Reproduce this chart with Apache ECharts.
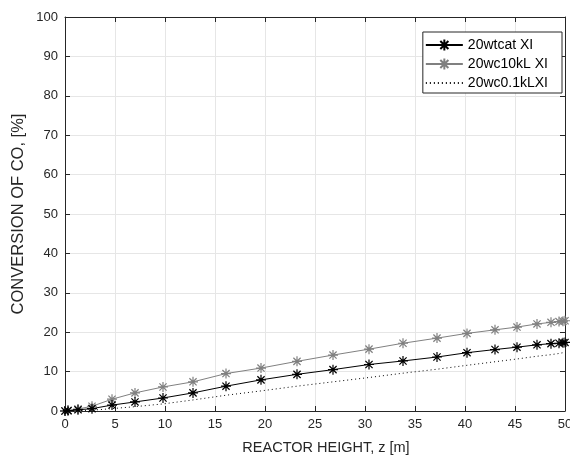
<!DOCTYPE html>
<html>
<head>
<meta charset="utf-8">
<script src="https://cdn.jsdelivr.net/npm/echarts@6/dist/echarts.min.js"></script>
<style>
  html, body { margin: 0; padding: 0; background: #fff; }
  #chart { width: 570px; height: 459px; }
</style>
</head>
<body>
<div id="chart"></div>
<script>
// reactor height z [m] of the solver steps
var zSteps = [0, 0.3, 1.3, 2.7, 4.7, 7.0, 9.8, 12.8, 16.1, 19.6, 23.2, 26.8, 30.4, 33.8, 37.2, 40.2, 43.0, 45.2, 47.2, 48.6, 49.4, 49.8, 50];
// conversion of CO [%]
var wtcat = [0, 0.1, 0.3, 0.6, 1.5, 2.3, 3.3, 4.6, 6.3, 7.9, 9.3, 10.5, 11.8, 12.7, 13.7, 14.8, 15.6, 16.2, 16.8, 17.1, 17.2, 17.3, 17.4];
var wc10kL = [0, 0.1, 0.5, 1.2, 3.0, 4.6, 6.1, 7.4, 9.5, 10.9, 12.6, 14.2, 15.7, 17.2, 18.5, 19.7, 20.6, 21.3, 22.1, 22.5, 22.7, 22.8, 22.9];
var wc01kL = [0, 0, 0.1, 0.2, 0.6, 1.1, 1.8, 2.8, 4.0, 5.1, 6.3, 7.4, 8.5, 9.6, 10.6, 11.6, 12.5, 13.2, 13.9, 14.3, 14.6, 14.8, 14.9];
var seriesNames = ['20wtcat XI', '20wc10kL XI', '20wc0.1kLXI'];

var star = 'path://M0,-1L0,1M-1,0L1,0M-0.72,-0.72L0.72,0.72M-0.72,0.72L0.72,-0.72';
var noMark = 'path://M0,0L1,1';
var font = 'Liberation Sans, Arial, Helvetica, sans-serif';
var axisColor = '#262626';

function pairs(ys) {
  return zSteps.map(function (z, i) { return [z, ys[i]]; });
}

function frameAxis(pos, max) {
  return {
    type: 'value', position: pos, min: 0, max: max, interval: max / 10,
    axisLine: { show: true, onZero: false, lineStyle: { color: axisColor, width: 1 } },
    axisTick: { show: true, inside: true, length: 5, lineStyle: { color: axisColor } },
    axisLabel: { show: false },
    splitLine: { show: false }
  };
}

var chart = echarts.init(document.getElementById('chart'));
chart.setOption({
  animation: false,
  textStyle: { fontFamily: font },
  grid: { left: 65, right: 5, top: 17, bottom: 48, containLabel: false, outerBoundsMode: 'none' },
  legend: {
    orient: 'vertical', right: 8, top: 32,
    data: [
      { name: seriesNames[0] },
      { name: seriesNames[1] },
      { name: seriesNames[2], itemStyle: { color: 'transparent', borderColor: 'transparent', borderWidth: 0 } }
    ],
    backgroundColor: '#fff', borderColor: axisColor, borderWidth: 1,
    padding: [6, 14, 3, 2], itemGap: 5, itemWidth: 37, itemHeight: 14,
    textStyle: { fontFamily: font, fontSize: 14, color: '#000' }
  },
  xAxis: [{
    type: 'value', position: 'bottom', min: 0, max: 50, interval: 5,
    name: 'REACTOR HEIGHT, z [m]', nameLocation: 'middle', nameGap: 29,
    nameTextStyle: { fontFamily: font, fontSize: 14.5, color: '#262626', padding: [0, 0, 0, 22] },
    axisLine: { show: true, onZero: false, lineStyle: { color: axisColor, width: 1 } },
    axisTick: { show: true, inside: true, length: 5, lineStyle: { color: axisColor } },
    axisLabel: { fontFamily: font, fontSize: 13, color: '#262626', margin: 7 },
    splitLine: { show: true, lineStyle: { color: '#e6e6e6', width: 1 } }
  }, frameAxis('top', 50)],
  yAxis: [{
    type: 'value', position: 'left', min: 0, max: 100, interval: 10,
    name: 'CONVERSION OF CO, [%]', nameLocation: 'middle', nameGap: 38, nameMoveOverlap: false,
    nameTextStyle: { fontFamily: font, fontSize: 16.5, color: '#262626' },
    axisLine: { show: true, onZero: false, lineStyle: { color: axisColor, width: 1 } },
    axisTick: { show: true, inside: true, length: 5, lineStyle: { color: axisColor } },
    axisLabel: { fontFamily: font, fontSize: 13, color: '#262626', margin: 7 },
    splitLine: { show: true, lineStyle: { color: '#e6e6e6', width: 1 } }
  }, frameAxis('right', 100)],
  series: [{
    name: seriesNames[0], type: 'line', data: pairs(wtcat),
    symbol: star, symbolSize: 10, showAllSymbol: true,
    lineStyle: { color: '#000', width: 1 },
    itemStyle: { color: '#000', borderColor: '#000', borderWidth: 1.2 },
    z: 3
  }, {
    name: seriesNames[1], type: 'line', data: pairs(wc10kL),
    symbol: star, symbolSize: 10, showAllSymbol: true,
    lineStyle: { color: '#808080', width: 1 },
    itemStyle: { color: '#808080', borderColor: '#808080', borderWidth: 1.2 },
    z: 2
  }, {
    name: seriesNames[2], type: 'line', data: pairs(wc01kL),
    symbol: noMark, showSymbol: false,
    lineStyle: { color: '#000', width: 1, type: [1, 3] },
    itemStyle: { color: '#000' },
    z: 2
  }]
});
</script>
</body>
</html>
